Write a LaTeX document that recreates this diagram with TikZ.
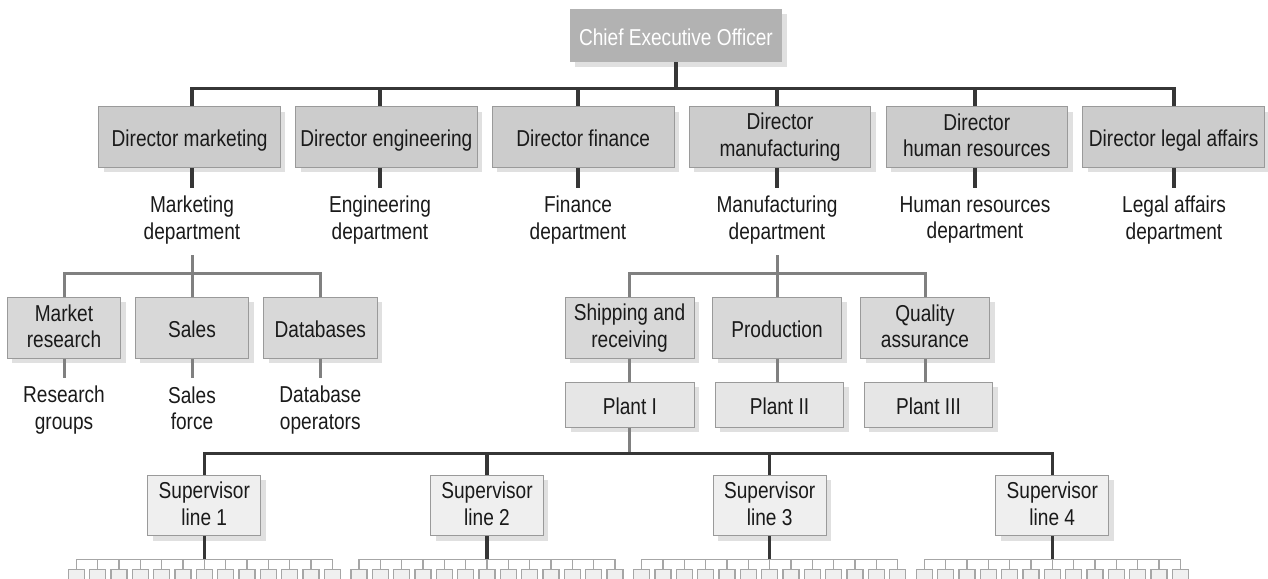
\documentclass[tikz,border=0pt]{standalone}
\usepackage{fontspec}
\setmainfont[FakeStretch=0.83]{Liberation Sans}
\usetikzlibrary{shadows}

\definecolor{ceofill}{HTML}{B2B2B2}
\definecolor{dirfill}{HTML}{CCCCCC}
\definecolor{subfill}{HTML}{D8D8D8}
\definecolor{plantfill}{HTML}{E6E6E6}
\definecolor{supfill}{HTML}{EFEFEF}
\definecolor{tinyfill}{HTML}{F0F0F0}
\definecolor{boxline}{HTML}{9A9A9A}
\definecolor{shade}{HTML}{E0E0E0}
\definecolor{darkwire}{HTML}{363636}
\definecolor{graywire}{HTML}{808080}
\definecolor{thinwire}{HTML}{A6A6A6}
\definecolor{ink}{HTML}{1A1A1A}

% line strut: keeps every text line the same height, text centred on the line
\newcommand\orgstrut{\rule[-3.45pt]{0pt}{26.7pt}}

\tikzset{
  label font/.style={font=\fontsize{23}{26.7}\selectfont,
    execute at begin node=\orgstrut, execute at end node=\orgstrut},
  orgbox/.style={label font, text=ink, align=center, inner sep=0pt,
    draw=boxline, line width=1pt,
    general shadow={fill=shade, shadow xshift=5pt, shadow yshift=-5pt}},
  ceobox/.style={orgbox, fill=ceofill, draw=ceofill, text=white,
    minimum width=211.7pt, minimum height=52.7pt},
  dirbox/.style={orgbox, fill=dirfill, minimum width=181.6pt, minimum height=60.6pt},
  unitbox/.style={orgbox, fill=subfill, minimum height=61pt},
  plantbox/.style={orgbox, fill=plantfill, minimum width=128.3pt, minimum height=45pt},
  supbox/.style={orgbox, fill=supfill, minimum width=112.7pt, minimum height=60.7pt},
  tinybox/.style={draw=thinwire, fill=tinyfill, line width=1.2pt, inner sep=0pt,
    minimum width=16pt, minimum height=16pt},
  dept/.style={label font, text=ink, align=center, inner sep=0pt},
  darkline/.style={draw=darkwire, line width=3.3pt, line join=miter},
  grayline/.style={draw=graywire, line width=3pt, line join=miter},
  thinline/.style={draw=thinwire, line width=1.3pt, line join=miter},
}

\begin{document}
\begin{tikzpicture}[x=1pt, y=-1pt]
\useasboundingbox (0,0) rectangle (1268,578);

% bus and stem levels
\coordinate (topbus) at (0,88.3);
\coordinate (dstem) at (0,188.3);
\coordinate (sstem) at (0,255);
\coordinate (mbus) at (0,273.3);
\coordinate (lstem) at (0,378.3);
\coordinate (sbus) at (0,453.3);
\coordinate (tbus) at (0,559.3);

% top of the organisation
\node[ceobox] (ceo) at (675.9,35.4) {Chief Executive Officer};

\node[dirbox] (dmkt) at (189.6,137) {Director marketing};
\node[dirbox] (deng) at (386.4,137) {Director engineering};
\node[dirbox] (dfin) at (583.2,137) {Director finance};
\node[dirbox] (dman) at (780.0,137) {Director\\manufacturing};
\node[dirbox] (dhr)  at (976.8,137) {Director\\human resources};
\node[dirbox] (dlaw) at (1173.6,137) {Director legal affairs};

\node[dept] (pmkt) at (192,220) {Marketing\\department};
\node[dept] (peng) at (380,220) {Engineering\\department};
\node[dept] (pfin) at (578,220) {Finance\\department};
\node[dept] (pman) at (777,220) {Manufacturing\\department};
\node[dept] (phr)  at (975,220) {Human resources\\department};
\node[dept] (plaw) at (1174,220) {Legal affairs\\department};

% marketing units
\node[unitbox, minimum width=113.4pt] (mres)  at (64,327.8) {Market\\research};
\node[unitbox, minimum width=113.4pt] (sales) at (192,327.8) {Sales};
\node[unitbox, minimum width=113.4pt] (dbs)   at (320.3,327.8) {Databases};

\node[dept] (gres)   at (64,410) {Research\\groups};
\node[dept] (gsales) at (192,410) {Sales\\force};
\node[dept] (gdbs)   at (320.3,410) {Database\\operators};

% manufacturing units and plants
\node[unitbox, minimum width=129pt] (ship) at (629.5,327.8) {Shipping and\\receiving};
\node[unitbox, minimum width=129pt] (prod) at (777.0,327.8) {Production};
\node[unitbox, minimum width=129pt] (qual) at (925.0,327.8) {Quality\\assurance};

\node[plantbox] (plant1) at (629.9,404.8) {Plant I};
\node[plantbox] (plant2) at (779.5,404.8) {Plant II};
\node[plantbox] (plant3) at (928.5,404.8) {Plant III};

% production lines
\node[supbox] (sup1) at (204.3,505.4) {Supervisor\\line 1};
\node[supbox] (sup2) at (487.0,505.4) {Supervisor\\line 2};
\node[supbox] (sup3) at (769.7,505.4) {Supervisor\\line 3};
\node[supbox] (sup4) at (1052.3,505.4) {Supervisor\\line 4};

% workers: four teams of thirteen
\foreach \g in {1,...,4} {
  \foreach \k in {0,...,12} {
    \node[tinybox, anchor=north] (w-\g-\k)
      at ({76.3+(\g-1)*282.67+\k*21.333},569) {};
  }
}

% CEO to directors
\draw[darkline] (ceo.south) -- (ceo.south |- topbus);
\draw[darkline] (pmkt.north |- dmkt.north) -- (pmkt.north |- topbus)
  -- (plaw.north |- topbus) -- (plaw.north |- dlaw.north);
\foreach \d/\p in {deng/peng, dfin/pfin, dman/pman, dhr/phr} {
  \draw[darkline] (\p.north |- topbus) -- (\p.north |- \d.north);
}
\foreach \d/\p in {dmkt/pmkt, deng/peng, dfin/pfin, dman/pman, dhr/phr, dlaw/plaw} {
  \draw[darkline] (\p.north |- \d.south) -- (\p.north |- dstem);
}

% marketing department tree
\draw[grayline] (pmkt.north |- sstem) -- (pmkt.north |- mbus);
\draw[grayline] (mres.north) -- (mres.north |- mbus) -- (dbs.north |- mbus) -- (dbs.north);
\draw[grayline] (sales.north |- mbus) -- (sales.north);
\foreach \u/\g in {mres/gres, sales/gsales, dbs/gdbs} {
  \draw[grayline] (\u.south) -- (\u.south |- lstem);
}

% manufacturing department tree
\draw[grayline] (pman.north |- sstem) -- (pman.north |- mbus);
\draw[grayline] (ship.north) -- (ship.north |- mbus) -- (qual.north |- mbus) -- (qual.north);
\draw[grayline] (prod.north |- mbus) -- (prod.north);
\draw[grayline] (ship.south) -- (ship.south |- plant1.north);
\draw[grayline] (prod.south) -- (prod.south |- plant2.north);
\draw[grayline] (qual.south) -- (qual.south |- plant3.north);

% plant I to its supervisors
\draw[grayline] (plant1.south) -- (plant1.south |- sbus);
\draw[darkline] (sup1.north) -- (sup1.north |- sbus) -- (sup4.north |- sbus) -- (sup4.north);
\draw[darkline] (sup2.north |- sbus) -- (sup2.north);
\draw[darkline] (sup3.north |- sbus) -- (sup3.north);

% supervisors to workers
\foreach \g in {1,...,4} {
  \draw[thinline] (w-\g-0.north) -- (w-\g-0.north |- tbus)
    -- (w-\g-12.north |- tbus) -- (w-\g-12.north);
  \foreach \k in {1,...,11} {
    \draw[thinline] (w-\g-\k.north |- tbus) -- (w-\g-\k.north);
  }
  \draw[darkline] (sup\g.south) -- (sup\g.south |- tbus);
}
\end{tikzpicture}
\end{document}
